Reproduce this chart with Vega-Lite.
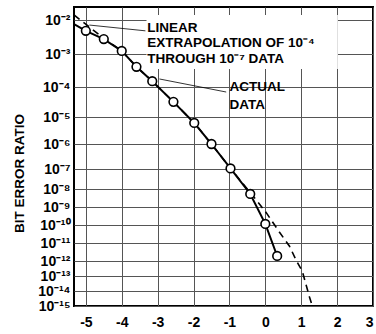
{
  "$schema": "https://vega.github.io/schema/vega-lite/v6.json",
  "width": 299,
  "height": 299,
  "autosize": "none",
  "padding": {"left": 74, "top": 7, "right": 3, "bottom": 28},
  "background": "white",
  "config": {
    "view": {"stroke": "black", "strokeWidth": 2},
    "font": "Liberation Sans",
    "axis": {
      "grid": true, "gridColor": "#555", "gridWidth": 1, "gridOpacity": 1,
      "domain": false, "ticks": false,
      "labelFont": "Liberation Sans", "labelFontWeight": "bold", "labelFontSize": 14, "labelColor": "black",
      "titleFont": "Liberation Sans", "titleFontWeight": "bold", "titleColor": "black"
    }
  },
  "datasets": {
    "points": [
      {"x": -5.0, "ber": 4.8e-3},
      {"x": -4.5, "ber": 2.75e-3},
      {"x": -4.0, "ber": 1.23e-3},
      {"x": -3.59, "ber": 4.1e-4},
      {"x": -3.15, "ber": 1.5e-4},
      {"x": -2.56, "ber": 3.2e-5},
      {"x": -1.98, "ber": 6e-6},
      {"x": -1.5, "ber": 1e-6},
      {"x": -0.97, "ber": 1.05e-7},
      {"x": -0.42, "ber": 5.3e-9},
      {"x": 0.0, "ber": 1.15e-10},
      {"x": 0.33, "ber": 1.9e-12}
    ],
    "solid": [
      {"x": -5.33, "ber": 7.6e-3},
      {"x": -5.0, "ber": 4.8e-3},
      {"x": -4.5, "ber": 2.75e-3},
      {"x": -4.0, "ber": 1.23e-3},
      {"x": -3.59, "ber": 4.1e-4},
      {"x": -3.15, "ber": 1.5e-4},
      {"x": -2.56, "ber": 3.2e-5},
      {"x": -1.98, "ber": 6e-6},
      {"x": -1.5, "ber": 1e-6},
      {"x": -0.97, "ber": 1.05e-7},
      {"x": -0.42, "ber": 5.3e-9},
      {"x": 0.0, "ber": 1.15e-10},
      {"x": 0.33, "ber": 1.9e-12}
    ],
    "dashed": [
      {"x": -5.33, "ber": 1.4e-2},
      {"x": -4.9, "ber": 6.2e-3},
      {"x": -4.5, "ber": 2.9e-3},
      {"x": -4.0, "ber": 1.23e-3},
      {"x": -3.59, "ber": 4.1e-4},
      {"x": -3.15, "ber": 1.5e-4},
      {"x": -2.56, "ber": 3.2e-5},
      {"x": -1.98, "ber": 6e-6},
      {"x": -1.5, "ber": 1e-6},
      {"x": -0.97, "ber": 1.05e-7},
      {"x": -0.25, "ber": 2.45e-9},
      {"x": 0.03, "ber": 4.7e-10},
      {"x": 0.39, "ber": 4.1e-11},
      {"x": 0.67, "ber": 6.8e-12},
      {"x": 0.86, "ber": 1.1e-12},
      {"x": 1.03, "ber": 2.1e-13},
      {"x": 1.23, "ber": 4e-15},
      {"x": 1.31, "ber": 1e-15}
    ],
    "box": [{"x": -3.31, "x2": 2.02, "ber": 1.4e-2, "ber2": 3.5e-4}],
    "leaders": [
      {"x": -4.9, "ber": 7.1e-3, "x2": -3.34, "ber2": 4.8e-3},
      {"x": -2.95, "ber": 1.75e-4, "x2": -1.09, "ber2": 6.8e-5}
    ],
    "labels": [
      {"x": -3.29, "ber": 4.5e-3, "text": "LINEAR"},
      {"x": -3.29, "ber": 1.62e-3, "text": "EXTRAPOLATION OF 10⁻⁴"},
      {"x": -3.29, "ber": 5.3e-4, "text": "THROUGH 10⁻⁷ DATA"},
      {"x": -1.0, "ber": 7.2e-5, "text": "ACTUAL"},
      {"x": -1.0, "ber": 1.8e-5, "text": "DATA"}
    ]
  },
  "encoding": {
    "x": {
      "field": "x", "type": "quantitative",
      "scale": {"domain": [-5.33, 3], "nice": false, "zero": false},
      "axis": {"values": [-5, -4, -3, -2, -1, 0, 1, 2, 3], "title": null, "labelPadding": 9, "labelExpr": "toString(datum.value)"}
    },
    "y": {
      "field": "ber", "type": "quantitative",
      "scale": {
        "type": "log",
        "domain": [1e-15, 1e-14, 1e-13, 1e-12, 1e-11, 1e-10, 1e-9, 1e-8, 1e-7, 1e-6, 1e-5, 1e-4, 1e-3, 1e-2, 0.024],
        "range": [299, 284, 269, 254, 236, 218, 200, 182, 162, 137, 110, 80, 47, 13, 0],
        "nice": false
      },
      "axis": {
        "values": [1e-15, 1e-14, 1e-13, 1e-12, 1e-11, 1e-10, 1e-9, 1e-8, 1e-7, 1e-6, 1e-5, 1e-4, 1e-3, 1e-2],
        "labelOverlap": false,
        "labelPadding": 4,
        "labelExpr": "'10⁻' + (round(-log(datum.value)/LN10) >= 10 ? '¹' + ['⁰','¹','²','³','⁴','⁵','⁶','⁷','⁸','⁹'][round(-log(datum.value)/LN10) - 10] : ['⁰','¹','²','³','⁴','⁵','⁶','⁷','⁸','⁹'][round(-log(datum.value)/LN10)])",
        "title": "BIT ERROR RATIO",
        "titleFontSize": 13.5,
        "titleAngle": -90,
        "titleAlign": "center",
        "titleBaseline": "middle",
        "titleX": -55,
        "titleY": 166
      }
    }
  },
  "layer": [
    {
      "data": {"name": "box"},
      "mark": {"type": "rect", "fill": "white", "stroke": null},
      "encoding": {"x2": {"field": "x2"}, "y2": {"field": "ber2"}}
    },
    {
      "data": {"name": "dashed"},
      "mark": {"type": "line", "color": "black", "strokeWidth": 1.6, "strokeDash": [7, 5], "clip": true},
      "encoding": {"order": {"field": "x", "type": "quantitative"}}
    },
    {
      "data": {"name": "solid"},
      "mark": {"type": "line", "color": "black", "strokeWidth": 2, "clip": true},
      "encoding": {"order": {"field": "x", "type": "quantitative"}}
    },
    {
      "data": {"name": "points"},
      "mark": {"type": "point", "shape": "circle", "filled": false, "fill": "white", "fillOpacity": 1, "stroke": "black", "strokeWidth": 1.6, "size": 75, "opacity": 1}
    },
    {
      "data": {"name": "leaders"},
      "mark": {"type": "rule", "color": "black", "strokeWidth": 0.8},
      "encoding": {"x2": {"field": "x2"}, "y2": {"field": "ber2"}}
    },
    {
      "data": {"name": "labels"},
      "mark": {"type": "text", "align": "left", "baseline": "alphabetic", "font": "Liberation Sans", "fontWeight": "bold", "fontSize": 13.5, "color": "black"},
      "encoding": {"text": {"field": "text"}}
    }
  ]
}
